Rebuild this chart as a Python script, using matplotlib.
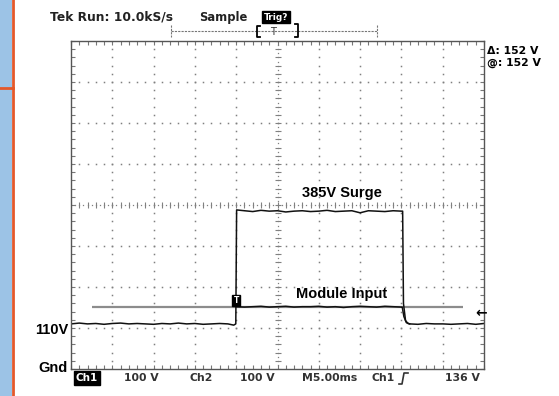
import numpy as np
import matplotlib.pyplot as plt
from matplotlib.patches import Rectangle
from matplotlib.lines import Line2D

# time axis in ms (5 ms/div, 10 div), voltage in V (100 V/div, 8 div, Gnd at bottom)
ch1_t = [0, 1, 2, 3, 4, 5, 6, 7, 8, 9, 10, 11, 12, 13, 14, 15, 16, 17, 18, 19, 19.7, 19.95,
         20.05, 21, 22, 23, 24, 25, 26, 27, 28, 29, 30, 31, 32, 33, 34, 35, 36, 37, 38, 39, 40, 40.15,
         40.25, 40.5, 40.8, 41, 42, 43, 44, 45, 46, 47, 48, 49, 50]
ch1_v = [110, 112, 110, 111, 109, 111, 112, 110, 111, 110, 109, 111, 110, 112, 110, 111, 109, 110, 111, 110, 107, 110,
         388, 386, 384, 387, 385, 386, 383, 385, 386, 384, 385, 387, 384, 385, 386, 381, 386, 385, 384, 386, 385, 385,
         160, 118, 111, 110, 109, 111, 110, 110, 109, 110, 111, 109, 111]

ch2_t = [20.0, 21, 22, 23, 24, 25, 26, 27, 28, 29, 30, 31, 32, 33, 34, 35, 36, 37, 38, 39, 40, 40.1,
         40.3, 40.6, 41]
ch2_v = [152, 151, 152, 153, 151, 152, 153, 151, 152, 152, 153, 151, 152, 150, 152, 153, 152, 151, 153, 152, 151, 151,
         128, 113, 110]

cursor_v = 152
cursor_t = [2.5, 47.5]
trig_t = 20.0
trig_level = 136

W, H = 559, 396
fig = plt.figure(figsize=(W / 100, H / 100), dpi=100)
fig.patch.set_facecolor('white')

def fx(x):
    return x / W

def fy(y):
    return 1 - y / H

ax = fig.add_axes([fx(71), fy(369), fx(484) - fx(71), fy(41) - fy(369)])
ax.set_xlim(0, 50)
ax.set_ylim(0, 800)

# graticule: dotted division lines
xd = np.arange(0, 50.01, 1.0)
yd = np.arange(0, 800.1, 20)
for gx in range(5, 50, 5):
    if gx == 25:
        continue
    ax.plot([gx] * len(yd), yd, ls='none', marker='s', ms=1.1, color='#808080', mew=0)
for gy in range(100, 800, 100):
    if gy == 400:
        continue
    ax.plot(xd, [gy] * len(xd), ls='none', marker='s', ms=1.1, color='#808080', mew=0)

# centre cross with tick marks
ax.plot(np.arange(0, 50.01, 0.5), [400] * 101, ls='none', marker='s', ms=0.9, color='#808080', mew=0)
ax.plot(xd, [400] * len(xd), ls='none', marker='|', ms=4, color='#808080', mew=0.8)
ax.plot([25] * 81, np.arange(0, 800.1, 10), ls='none', marker='s', ms=0.9, color='#808080', mew=0)
ax.plot([25] * len(yd), yd, ls='none', marker='_', ms=4, color='#808080', mew=0.8)

ax.set_xticks(np.arange(0, 50.01, 1.0))
ax.set_yticks(np.arange(0, 800.1, 20))
ax.tick_params(direction='in', length=3, width=0.8, color='#777777',
               top=True, right=True, labelbottom=False, labelleft=False)
for s in ax.spines.values():
    s.set_color('#555555')
    s.set_linewidth(1.0)

# cursor and traces
ax.plot(cursor_t, [cursor_v, cursor_v], color='#8c8c8c', lw=1.6, solid_capstyle='butt')
ax.plot(ch1_t, ch1_v, color='#111111', lw=1.1)
ax.plot(ch2_t, ch2_v, color='#111111', lw=1.1)

# trigger marker and level arrow
ax.text(trig_t, cursor_v + 4, 'T', ha='center', va='bottom', color='white', fontsize=5.5,
        fontweight='bold', bbox=dict(boxstyle='square,pad=0.15', fc='black', ec='black'))
ax.text(0.994, trig_level, '\u2190', transform=ax.get_yaxis_transform(), ha='center', va='center',
        fontsize=10, fontweight='bold', color='black', clip_on=False)

# annotations
ax.text(fx(342), fy(193), '385V Surge', transform=fig.transFigure, ha='center', va='center',
        family='Liberation Sans', fontweight='bold', fontsize=10.5)
ax.text(fx(342), fy(294), 'Module Input', transform=fig.transFigure, ha='center', va='center',
        family='Liberation Sans', fontweight='bold', fontsize=10.5, zorder=5)
fig.text(fx(68), fy(330), '110V', ha='right', va='center', family='Liberation Sans',
         fontweight='bold', fontsize=10.5)
fig.text(fx(68), fy(368), 'Gnd', ha='right', va='center', family='Liberation Sans',
         fontweight='bold', fontsize=10.5)

# scope header
fig.text(fx(112), fy(17), 'Tek Run: 10.0kS/s', ha='center', va='center', fontsize=8.8, fontweight='bold',
         color='#222222')
fig.text(fx(223), fy(17), 'Sample', ha='center', va='center', fontsize=8.3, fontweight='bold', color='#222222')
fig.text(fx(276), fy(17), 'Trig?', ha='center', va='center', fontsize=6.5, fontweight='bold', color='white',
         bbox=dict(boxstyle='square,pad=0.2', fc='black', ec='black'))

# record view bar
fig.add_artist(Line2D([fx(171), fx(377)], [fy(31), fy(31)], color='#777777', lw=0.8, ls=(0, (2, 1))))
for bx in (171, 377):
    fig.add_artist(Line2D([fx(bx), fx(bx)], [fy(25), fy(37)], color='#777777', lw=0.8, ls=(0, (2, 1))))
fig.add_artist(Line2D([fx(260), fx(257), fx(257), fx(260)], [fy(26), fy(26), fy(37), fy(37)], color='black', lw=1.3))
fig.add_artist(Line2D([fx(295), fx(298), fx(298), fx(295)], [fy(24), fy(24), fy(37), fy(37)], color='black', lw=1.3))
fig.text(fx(273), fy(32), 'T', ha='center', va='center', fontsize=7, color='#333333')

# cursor readout
fig.text(fx(487), fy(51), '\u0394: 152 V', ha='left', va='center', fontsize=7.8, fontweight='bold')
fig.text(fx(487), fy(63), '@: 152 V', ha='left', va='center', fontsize=7.8, fontweight='bold')

# bottom status line
fig.text(fx(87), fy(378), 'Ch1', ha='center', va='center', fontsize=7.5, fontweight='bold', color='white',
         bbox=dict(boxstyle='square,pad=0.15', fc='black', ec='black'))
for x, s in [(141, '100 V'), (201, 'Ch2'), (257, '100 V'), (330, 'M5.00ms'), (383, 'Ch1'), (462, '136 V')]:
    fig.text(fx(x), fy(378), s, ha='center', va='center', fontsize=7.8, fontweight='bold', color='#333333')
fig.add_artist(Line2D([fx(399), fx(402), fx(404), fx(408)], [fy(384), fy(384), fy(373), fy(373)],
                      color='#333333', lw=1.2))

# side panel
fig.add_artist(Rectangle((0, 0), fx(12), 1, transform=fig.transFigure, fc='#9cc3e6', ec='none'))
fig.add_artist(Line2D([fx(13), fx(13)], [0, 1], color='#e4582a', lw=2))
fig.add_artist(Line2D([0, fx(13)], [fy(88), fy(88)], color='#e4582a', lw=2))

fig.savefig('out.png', dpi=100)
